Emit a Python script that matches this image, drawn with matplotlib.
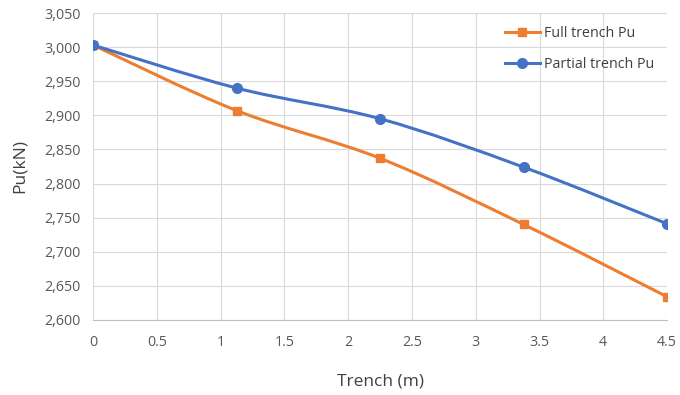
import numpy as np
import matplotlib.pyplot as plt
from matplotlib.path import Path
from matplotlib.patches import PathPatch
from matplotlib.lines import Line2D

trench = [0, 1.125, 2.25, 3.375, 4.5]
full_pu = [3003, 2907, 2837, 2740, 2634]
partial_pu = [3003, 2940, 2895, 2824, 2741]

ORANGE = "#ED7D31"
BLUE = "#4472C4"


def smooth_path(x, y, t=1 / 6):
    # Excel-style smooth line: cubic bezier through the points
    x = np.asarray(x, float)
    y = np.asarray(y, float)
    verts = [(x[0], y[0])]
    codes = [Path.MOVETO]
    n = len(x)
    for i in range(n - 1):
        p0 = (x[max(i - 1, 0)], y[max(i - 1, 0)])
        p1 = (x[i], y[i])
        p2 = (x[i + 1], y[i + 1])
        p3 = (x[min(i + 2, n - 1)], y[min(i + 2, n - 1)])
        c1 = (p1[0] + (p2[0] - p0[0]) * t, p1[1] + (p2[1] - p0[1]) * t)
        c2 = (p2[0] - (p3[0] - p1[0]) * t, p2[1] - (p3[1] - p1[1]) * t)
        verts += [c1, c2, p2]
        codes += [Path.CURVE4] * 3
    return Path(verts, codes)


plt.rcParams['font.family'] = ['Open Sans', 'DejaVu Sans']
fig = plt.figure(figsize=(6.8, 3.95), dpi=100)
ax = fig.add_axes([0.137, 0.19, 0.844, 0.777])

for ys, col, mk, ms in [(full_pu, ORANGE, 's', 6), (partial_pu, BLUE, 'o', 7)]:
    ax.add_patch(PathPatch(smooth_path(trench, ys), facecolor='none',
                           edgecolor=col, lw=2.2, zorder=3))
    ax.plot(trench, ys, ls='none', marker=mk, ms=ms, color=col, zorder=4)

ax.set_xlim(0, 4.5)
ax.set_ylim(2600, 3050)
ax.set_xticks(np.arange(0, 4.51, 0.5))
ax.set_xticklabels(["0", "0.5", "1", "1.5", "2", "2.5", "3", "3.5", "4", "4.5"])
ax.set_yticks(np.arange(2600, 3051, 50))
ax.yaxis.set_major_formatter(plt.FuncFormatter(lambda v, p: f"{int(v):,}"))
ax.grid(True, color="#d9d9d9", lw=0.8)
ax.set_axisbelow(True)
for s in ['top', 'right', 'left']:
    ax.spines[s].set_visible(False)
ax.spines['bottom'].set_color("#bfbfbf")
ax.tick_params(length=0, labelsize=10.3, colors="#595959")
ax.tick_params(axis='x', pad=11)
ax.tick_params(axis='y', pad=9)

ax.set_xlabel("Trench (m)", fontsize=12.5, color="#404040", labelpad=17)
ax.set_ylabel("Pu(kN)", fontsize=12.5, color="#404040", labelpad=12)

handles = [Line2D([], [], color=ORANGE, lw=2.2, marker='s', ms=6),
           Line2D([], [], color=BLUE, lw=2.2, marker='o', ms=7)]
ax.legend(handles, ["Full trench Pu", "Partial trench Pu"], frameon=False,
          loc='upper right', bbox_to_anchor=(1.0, 1.0), fontsize=10.3,
          handlelength=2.4, handletextpad=0.3, labelspacing=1.15, labelcolor="#404040")

fig.savefig("out.png", dpi=100)
